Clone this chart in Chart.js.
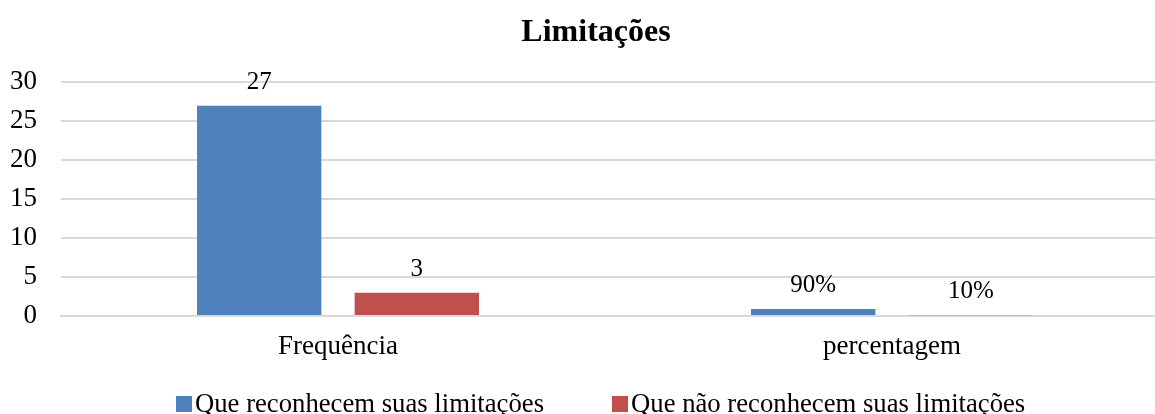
<!DOCTYPE html>
<html lang="pt">
<head>
    <meta charset="UTF-8">
    <title>Limitações</title>
    <script src="https://cdn.jsdelivr.net/npm/chart.js"></script>
    <style>
        html, body {
            margin: 0;
            padding: 0;
            background: #ffffff;
            overflow: hidden;
        }
        .chart-box {
            position: relative;
            width: 1192px;
            height: 414px;
        }
        .legend {
            position: absolute;
            left: 176px;
            top: 388px;
            display: flex;
            gap: 68px;
            font-family: 'Liberation Serif', 'Times New Roman', serif;
            font-size: 26.7px;
            line-height: 30px;
            color: #000;
            white-space: nowrap;
        }
        .legend .swatch {
            display: inline-block;
            width: 16px;
            height: 16px;
            margin-right: 3px;
        }
    </style>
</head>
<body>
    <div class="chart-box">
        <canvas id="limitChart"></canvas>
        <div class="legend" id="legend"></div>
    </div>

    <script>
        const categories = ['Frequência', 'percentagem'];
        const seriesNames = ['Que reconhecem suas limitações', 'Que não reconhecem suas limitações'];
        const seriesColors = ['#4F81BD', '#C0504D'];
        const reconhecem = [27, 0.9];
        const naoReconhecem = [3, 0.1];
        const reconhecemLabels = ['27', '90%'];
        const naoReconhecemLabels = ['3', '10%'];

        const FONT = "'Liberation Serif', 'Times New Roman', serif";

        // value text above each bar
        const valueLabels = {
            id: 'valueLabels',
            afterDatasetsDraw(chart) {
                const ctx = chart.ctx;
                ctx.save();
                ctx.font = '25px ' + FONT;
                ctx.fillStyle = '#000000';
                ctx.textAlign = 'center';
                ctx.textBaseline = 'alphabetic';
                chart.data.datasets.forEach((ds, i) => {
                    chart.getDatasetMeta(i).data.forEach((bar, j) => {
                        ctx.fillText(ds.valueText[j], bar.x, bar.y - 17);
                    });
                });
                ctx.restore();
            }
        };

        const chart = new Chart(document.getElementById('limitChart'), {
            type: 'bar',
            data: {
                labels: categories,
                datasets: [{
                    label: seriesNames[0],
                    data: reconhecem,
                    valueText: reconhecemLabels,
                    backgroundColor: seriesColors[0]
                }, {
                    label: seriesNames[1],
                    data: naoReconhecem,
                    valueText: naoReconhecemLabels,
                    backgroundColor: seriesColors[1]
                }]
            },
            options: {
                responsive: true,
                maintainAspectRatio: false,
                animation: false,
                categoryPercentage: 0.569,
                barPercentage: 0.789,
                layout: {
                    padding: { left: 10, right: 10, top: 0, bottom: 51 }
                },
                plugins: {
                    title: {
                        display: true,
                        text: 'Limitações',
                        color: '#000000',
                        font: { family: FONT, size: 32, weight: 'bold' },
                        padding: { top: 14, bottom: 30 }
                    },
                    legend: { display: false },
                    tooltip: { enabled: false }
                },
                scales: {
                    x: {
                        grid: { display: false, drawTicks: false },
                        border: { color: '#d9d9d9', width: 2 },
                        ticks: {
                            color: '#000000',
                            font: { family: FONT, size: 27 },
                            padding: 15
                        },
                        afterFit(scale) { scale.height = 47; }
                    },
                    y: {
                        min: 0,
                        max: 30,
                        ticks: {
                            stepSize: 5,
                            color: '#000000',
                            font: { family: FONT, size: 27 },
                            padding: 24
                        },
                        grid: { color: '#d9d9d9', lineWidth: 2, drawTicks: false },
                        border: { display: false },
                        afterFit(scale) { scale.width = 51; }
                    },
                    // empty right axis, only keeps the title centred like the original
                    yRight: {
                        position: 'right',
                        min: 0,
                        max: 30,
                        ticks: { display: false },
                        grid: { display: false, drawTicks: false },
                        border: { display: false },
                        afterFit(scale) { scale.width = 13; }
                    }
                }
            },
            plugins: [valueLabels]
        });

        // legend built from the datasets
        const legendEl = document.getElementById('legend');
        chart.data.datasets.forEach(ds => {
            const item = document.createElement('span');
            const sw = document.createElement('span');
            sw.className = 'swatch';
            sw.style.background = ds.backgroundColor;
            item.appendChild(sw);
            item.appendChild(document.createTextNode(ds.label));
            legendEl.appendChild(item);
        });
    </script>
</body>
</html>
